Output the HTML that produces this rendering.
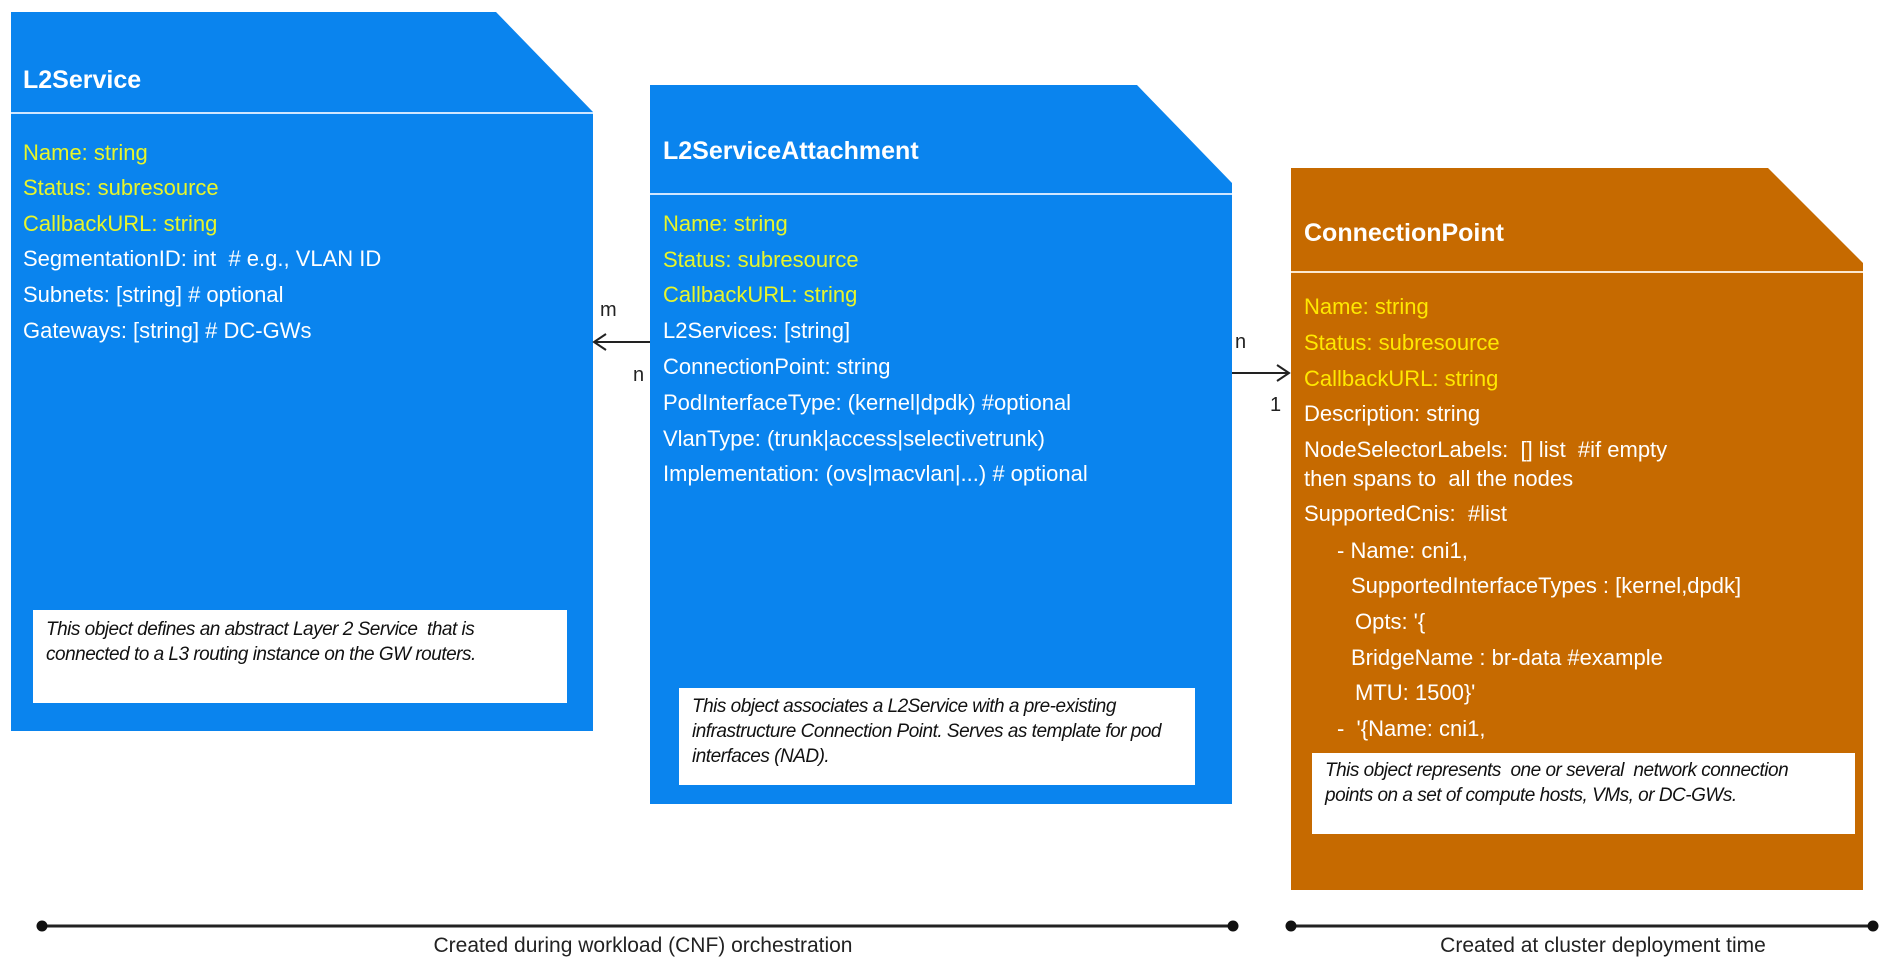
<!DOCTYPE html>
<html><head><meta charset="utf-8"><style>
body{margin:0;width:1892px;height:972px;background:#fff;position:relative;overflow:hidden;font-family:"Liberation Sans",sans-serif}
.t{position:absolute;white-space:nowrap;line-height:30px;font-size:22px;color:#fff;letter-spacing:0}
.y{color:#E8F52A}
.yo{color:#FFE800}
.h{font-weight:bold;font-size:25px;letter-spacing:0;line-height:36px}
.note{position:absolute;background:#fff}
.n{position:absolute;white-space:nowrap;font-style:italic;font-size:19px;line-height:25px;color:#111;letter-spacing:-0.5px}
.lab{position:absolute;font-size:20px;color:#222;line-height:24px}
</style></head><body>
<svg width="1892" height="972" style="position:absolute;left:0;top:0">
<polygon points="11,12 496,12 593,112 593,731 11,731" fill="#0A84EE"/>
<line x1="11" y1="113" x2="593" y2="113" stroke="#cfe6ff" stroke-width="2"/>
<polygon points="650,85 1137,85 1232,183 1232,804 650,804" fill="#0A84EE"/>
<line x1="650" y1="194" x2="1232" y2="194" stroke="#cfe6ff" stroke-width="2"/>
<polygon points="1291,168 1768,168 1863,263 1863,890 1291,890" fill="#C66A00"/>
<line x1="1291" y1="272" x2="1863" y2="272" stroke="#fbe8d0" stroke-width="2"/>
<g stroke="#222" stroke-width="2" fill="none">
<line x1="594" y1="342" x2="650" y2="342"/><polyline points="606,334 594,342 606,350"/>
<line x1="1232" y1="373" x2="1289" y2="373"/><polyline points="1277,365 1289,373 1277,381"/>
</g>
<g stroke="#222" stroke-width="3"><line x1="42" y1="926" x2="1233" y2="926"/><line x1="1291" y1="926" x2="1873" y2="926"/></g>
<g fill="#111"><circle cx="42" cy="926" r="5.5"/><circle cx="1233" cy="926" r="5.5"/><circle cx="1291" cy="926" r="5.5"/><circle cx="1873" cy="926" r="5.5"/></g>
</svg>

<div class="t h" style="left:23px;top:62px">L2Service</div>
<div class="t y" style="left:23px;top:138px">Name: string</div>
<div class="t y" style="left:23px;top:173px">Status: subresource</div>
<div class="t y" style="left:23px;top:209px">CallbackURL: string</div>
<div class="t" style="left:23px;top:244px">SegmentationID: int &nbsp;# e.g., VLAN ID</div>
<div class="t" style="left:23px;top:280px">Subnets: [string] # optional</div>
<div class="t" style="left:23px;top:316px">Gateways: [string] # DC-GWs</div>
<div class="note" style="left:33px;top:610px;width:534px;height:93px"></div>
<div class="n" style="left:46px;top:617px">This object defines an abstract Layer 2 Service &nbsp;that is</div>
<div class="n" style="left:46px;top:642px">connected to a L3 routing instance on the GW routers.</div>

<div class="t h" style="left:663px;top:133px">L2ServiceAttachment</div>
<div class="t y" style="left:663px;top:209px">Name: string</div>
<div class="t y" style="left:663px;top:245px">Status: subresource</div>
<div class="t y" style="left:663px;top:280px">CallbackURL: string</div>
<div class="t" style="left:663px;top:316px">L2Services: [string]</div>
<div class="t" style="left:663px;top:352px">ConnectionPoint: string</div>
<div class="t" style="left:663px;top:388px">PodInterfaceType: (kernel|dpdk) #optional</div>
<div class="t" style="left:663px;top:424px">VlanType: (trunk|access|selectivetrunk)</div>
<div class="t" style="left:663px;top:459px">Implementation: (ovs|macvlan|...) # optional</div>
<div class="note" style="left:679px;top:688px;width:516px;height:97px"></div>
<div class="n" style="left:692px;top:694px">This object associates a L2Service with a pre-existing</div>
<div class="n" style="left:692px;top:719px">infrastructure Connection Point. Serves as template for pod</div>
<div class="n" style="left:692px;top:744px">interfaces (NAD).</div>

<div class="t h" style="left:1304px;top:215px">ConnectionPoint</div>
<div class="t yo" style="left:1304px;top:292px">Name: string</div>
<div class="t yo" style="left:1304px;top:328px">Status: subresource</div>
<div class="t yo" style="left:1304px;top:364px">CallbackURL: string</div>
<div class="t" style="left:1304px;top:399px">Description: string</div>
<div class="t" style="left:1304px;top:435px">NodeSelectorLabels: &nbsp;[] list &nbsp;#if empty</div>
<div class="t" style="left:1304px;top:464px">then spans to &nbsp;all the nodes</div>
<div class="t" style="left:1304px;top:499px">SupportedCnis: &nbsp;#list</div>
<div class="t" style="left:1337px;top:536px">- Name: cni1,</div>
<div class="t" style="left:1351px;top:571px">SupportedInterfaceTypes : [kernel,dpdk]</div>
<div class="t" style="left:1355px;top:607px">Opts: '{</div>
<div class="t" style="left:1351px;top:643px">BridgeName : br-data #example</div>
<div class="t" style="left:1355px;top:678px">MTU: 1500}'</div>
<div class="t" style="left:1337px;top:714px">- &nbsp;'{Name: cni1,</div>
<div class="note" style="left:1312px;top:753px;width:543px;height:81px"></div>
<div class="n" style="left:1325px;top:758px">This object represents &nbsp;one or several &nbsp;network connection</div>
<div class="n" style="left:1325px;top:783px">points on a set of compute hosts, VMs, or DC-GWs.</div>

<div class="lab" style="left:600px;top:298px">m</div>
<div class="lab" style="left:633px;top:363px">n</div>
<div class="lab" style="left:1235px;top:330px">n</div>
<div class="lab" style="left:1270px;top:393px">1</div>
<div class="lab" style="left:393px;top:934px;width:500px;text-align:center;font-size:21px">Created during workload (CNF) orchestration</div>
<div class="lab" style="left:1403px;top:934px;width:400px;text-align:center;font-size:21px">Created at cluster deployment time</div>
</body></html>
